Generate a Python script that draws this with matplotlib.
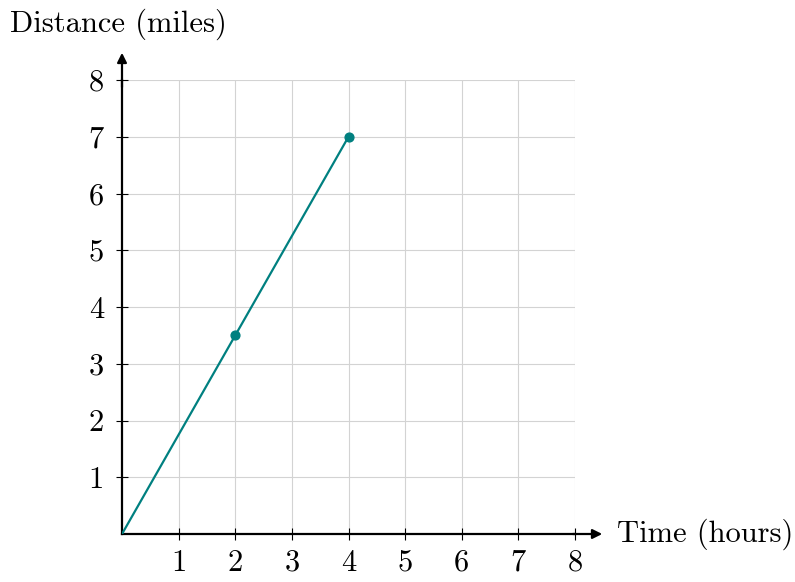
import matplotlib
matplotlib.use('Agg')
import matplotlib.pyplot as plt

# donnees du graphique
time_hours = [0, 2, 4]
distance_miles = [0, 3.5, 7]
marked_x = [2, 4]
marked_y = [3.5, 7]
ticks = [1, 2, 3, 4, 5, 6, 7, 8]

plt.rcParams['font.family'] = 'cmr10'
plt.rcParams['axes.formatter.use_mathtext'] = True

teal = '#008080'

fig = plt.figure(figsize=(7.95, 5.82), dpi=100)
ax = fig.add_axes([122 / 795, 48 / 582, 453 / 795, 454 / 582])

ax.set_xlim(0, 8)
ax.set_ylim(0, 8)

ax.grid(True, color='#d3d3d3', linewidth=0.8)
ax.set_axisbelow(True)

ax.plot(time_hours, distance_miles, color=teal, linewidth=1.6, zorder=3)
ax.scatter(marked_x, marked_y, color=teal, s=40, zorder=4)

for s in ['top', 'right']:
    ax.spines[s].set_visible(False)
for s in ['left', 'bottom']:
    ax.spines[s].set_linewidth(1.6)
    ax.spines[s].set_color('black')

ax.set_xticks(ticks)
ax.set_yticks(ticks)
ax.set_xticklabels([str(t) for t in ticks])
ax.set_yticklabels([str(t) for t in ticks])
ax.tick_params(direction='inout', length=8, width=0.8, labelsize=22)
ax.tick_params(axis='y', pad=9)
ax.tick_params(axis='x', pad=7)

# fleches des axes (pixels depuis le bas)
ax.annotate('', xy=(605, 48), xytext=(570, 48), xycoords='figure pixels',
            textcoords='figure pixels',
            arrowprops=dict(arrowstyle='-|>', color='black', lw=1.6, mutation_scale=14))
ax.annotate('', xy=(122, 582 - 50), xytext=(122, 582 - 90), xycoords='figure pixels',
            textcoords='figure pixels',
            arrowprops=dict(arrowstyle='-|>', color='black', lw=1.6, mutation_scale=14))

fig.text(617 / 795, 1 - 534 / 582, 'Time (hours)', fontsize=22, va='center', ha='left')
fig.text(10 / 795, 1 - 24 / 582, 'Distance (miles)', fontsize=22, va='center', ha='left')

plt.savefig('out.png', dpi=100)
